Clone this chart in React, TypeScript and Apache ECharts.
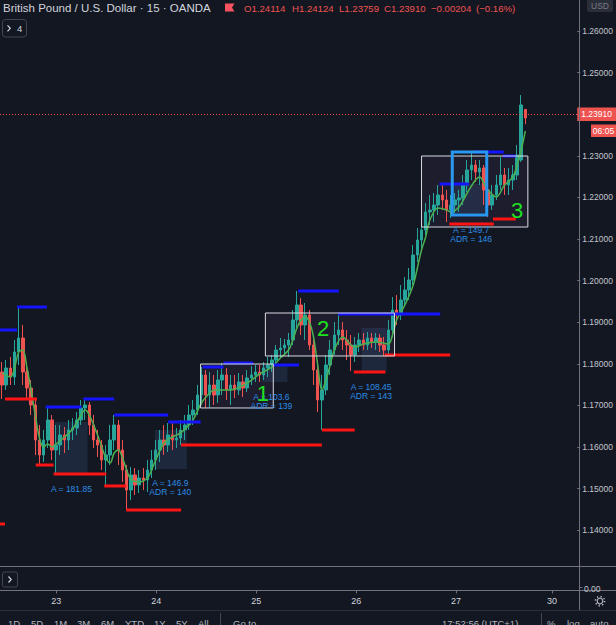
import React, { useEffect, useRef } from 'react';
import * as echarts from 'echarts';

// ---------- data ----------
// hourly slots: [day, first hour, last hour]
const sessions: [string, number, number][] = [
  ['20', 10, 21], ['22', 23, 23], ['23', 0, 23], ['24', 0, 23], ['25', 0, 23],
  ['26', 0, 23], ['27', 0, 21], ['29', 23, 23], ['30', 0, 6],
];

const title = 'British Pound / U.S. Dollar · 15 · OANDA';
const lastBar = { o: 1.24114, h: 1.24124, l: 1.23759, c: 1.2391 };
const change = -0.00204;
const changePct = -0.16;

// [open, close, low, high]
const candles: number[][] = [
  [1.17803, 1.1749, 1.17154, 1.18043], [1.1749, 1.17899, 1.1737, 1.18091], [1.17899, 1.17683, 1.1749, 1.18163],
  [1.17683, 1.18284, 1.1749, 1.18572], [1.18284, 1.1862, 1.17971, 1.19365], [1.1862, 1.17803, 1.1749, 1.18933],
  [1.17803, 1.17418, 1.1713, 1.18043], [1.17418, 1.1701, 1.16769, 1.17611], [1.1701, 1.16168, 1.15808, 1.17178],
  [1.16168, 1.15808, 1.15567, 1.16529], [1.15808, 1.16168, 1.15639, 1.16409], [1.16168, 1.16649, 1.15976, 1.16938],
  [1.16649, 1.15928, 1.15688, 1.16769], [1.15928, 1.16048, 1.15351, 1.16529], [1.16048, 1.16289, 1.15808, 1.16529],
  [1.16289, 1.16168, 1.15856, 1.16481], [1.16168, 1.16409, 1.15928, 1.16649], [1.16409, 1.16457, 1.16168, 1.16697],
  [1.16457, 1.16649, 1.16289, 1.16841], [1.16649, 1.16938, 1.16529, 1.1713], [1.16938, 1.1701, 1.16649, 1.17154],
  [1.1701, 1.16529, 1.16289, 1.17082], [1.16529, 1.16168, 1.15976, 1.16769], [1.16168, 1.16048, 1.1576, 1.16409],
  [1.16048, 1.15688, 1.15447, 1.16168], [1.15688, 1.15808, 1.15063, 1.16048], [1.15808, 1.16168, 1.15567, 1.16529],
  [1.16168, 1.16529, 1.15928, 1.16769], [1.16529, 1.15928, 1.15567, 1.16649], [1.15928, 1.15447, 1.15159, 1.16168],
  [1.15447, 1.14966, 1.14486, 1.15567], [1.14966, 1.15327, 1.14726, 1.15519], [1.15327, 1.15087, 1.14846, 1.15495],
  [1.15087, 1.15255, 1.14894, 1.15447], [1.15255, 1.15207, 1.14966, 1.15495], [1.15207, 1.15447, 1.14918, 1.15688],
  [1.15447, 1.15688, 1.15255, 1.15928], [1.15688, 1.15928, 1.15447, 1.16168], [1.15928, 1.16168, 1.15639, 1.16409],
  [1.16168, 1.16048, 1.15808, 1.16529], [1.16048, 1.16289, 1.1588, 1.16577], [1.16289, 1.16168, 1.15928, 1.16577],
  [1.16168, 1.16216, 1.15976, 1.16457], [1.16216, 1.16409, 1.16048, 1.16649], [1.16409, 1.16529, 1.16168, 1.16769],
  [1.16529, 1.16769, 1.16409, 1.1701], [1.16769, 1.16889, 1.16529, 1.1713], [1.16889, 1.1725, 1.16769, 1.1749],
  [1.1725, 1.17731, 1.1701, 1.17923], [1.17731, 1.1725, 1.16938, 1.17851], [1.1725, 1.1749, 1.16938, 1.17803],
  [1.1749, 1.1725, 1.1701, 1.17731], [1.1725, 1.17611, 1.17058, 1.17851], [1.17611, 1.17731, 1.1725, 1.18019],
  [1.17731, 1.1737, 1.1713, 1.17899], [1.1737, 1.1749, 1.1701, 1.17731], [1.1749, 1.1737, 1.17178, 1.17731],
  [1.1737, 1.17563, 1.1725, 1.17779], [1.17563, 1.17418, 1.17202, 1.17731], [1.17418, 1.17659, 1.17322, 1.17851],
  [1.17659, 1.17731, 1.1749, 1.17947], [1.17731, 1.17803, 1.17563, 1.17971], [1.17803, 1.17731, 1.17563, 1.17971],
  [1.17731, 1.17899, 1.17611, 1.18043], [1.17899, 1.17971, 1.17683, 1.18163], [1.17971, 1.18091, 1.17803, 1.18212],
  [1.18091, 1.18332, 1.17971, 1.18452], [1.18332, 1.1838, 1.18139, 1.1862], [1.1838, 1.18452, 1.18212, 1.18596],
  [1.18452, 1.18572, 1.18163, 1.1874], [1.18572, 1.19053, 1.18452, 1.19293], [1.19053, 1.19413, 1.18813, 1.1975],
  [1.19413, 1.18933, 1.18692, 1.19582], [1.18933, 1.19173, 1.18572, 1.19462], [1.19173, 1.18452, 1.18332, 1.19293],
  [1.18452, 1.17851, 1.1749, 1.18692], [1.17851, 1.1713, 1.16841, 1.18091], [1.1713, 1.1737, 1.16409, 1.17731],
  [1.1737, 1.17971, 1.1725, 1.18212], [1.17971, 1.18332, 1.17731, 1.18572], [1.18332, 1.18692, 1.18212, 1.19005],
  [1.18692, 1.18813, 1.18452, 1.19221], [1.18813, 1.18572, 1.18332, 1.19005], [1.18572, 1.18452, 1.18091, 1.18813],
  [1.18452, 1.18212, 1.17827, 1.18692], [1.18212, 1.18452, 1.18043, 1.18644], [1.18452, 1.18572, 1.18284, 1.1874],
  [1.18572, 1.18452, 1.18332, 1.1874], [1.18452, 1.1862, 1.18332, 1.18764], [1.1862, 1.18524, 1.1838, 1.1874],
  [1.18524, 1.1862, 1.18332, 1.1874], [1.1862, 1.18452, 1.18284, 1.18716], [1.18452, 1.18332, 1.18188, 1.18644],
  [1.18332, 1.18813, 1.18212, 1.19053], [1.18813, 1.19293, 1.18644, 1.19606], [1.19293, 1.19173, 1.18933, 1.19654],
  [1.19173, 1.19534, 1.19053, 1.19894], [1.19534, 1.19774, 1.19413, 1.20087], [1.19774, 1.20014, 1.19534, 1.20303],
  [1.20014, 1.20615, 1.19894, 1.20856], [1.20615, 1.20976, 1.20447, 1.21264], [1.20976, 1.21216, 1.20736, 1.21457],
  [1.21216, 1.21649, 1.21096, 1.21865], [1.21649, 1.21697, 1.21336, 1.22058], [1.21697, 1.21817, 1.21409, 1.22106],
  [1.21817, 1.22058, 1.21577, 1.22298], [1.22058, 1.21938, 1.21697, 1.22346], [1.21938, 1.21697, 1.21409, 1.22178],
  [1.21697, 1.21817, 1.21505, 1.22058], [1.21817, 1.21938, 1.21625, 1.22106], [1.21938, 1.21986, 1.21649, 1.22178],
  [1.21986, 1.22298, 1.21817, 1.22538], [1.22298, 1.22659, 1.2213, 1.22899], [1.22659, 1.22779, 1.22418, 1.23067],
  [1.22779, 1.22611, 1.2237, 1.22899], [1.22611, 1.22707, 1.22298, 1.22899], [1.22707, 1.22178, 1.21817, 1.22779],
  [1.22178, 1.21817, 1.21529, 1.22298], [1.21817, 1.22058, 1.21697, 1.22298], [1.22058, 1.22298, 1.21938, 1.22538],
  [1.22298, 1.22538, 1.22178, 1.22971], [1.22538, 1.22298, 1.22058, 1.22707], [1.22298, 1.22418, 1.22058, 1.22707],
  [1.22418, 1.22538, 1.22178, 1.22779], [1.22538, 1.23019, 1.22418, 1.2326], [1.22899, 1.24221, 1.22851, 1.24462],
  [lastBar.o, lastBar.c, lastBar.l, lastBar.h],
];

// moving average: [slot index, price]
const maPoints: number[][] = [
  [0, 1.17779], [2, 1.17683], [3, 1.17899], [4, 1.18284], [5, 1.18332], [6, 1.17899], [7, 1.1737], [8, 1.16769],
  [9, 1.16216], [10, 1.16], [11, 1.16072], [12, 1.16], [13, 1.16072], [15, 1.1624], [17, 1.16433], [19, 1.16769],
  [20, 1.16889], [21, 1.16769], [23, 1.16289], [24, 1.16], [25, 1.15736], [26, 1.15615], [27, 1.15856], [28, 1.15928],
  [29, 1.15736], [30, 1.15447], [31, 1.15231], [33, 1.15159], [35, 1.15255], [36, 1.15447], [37, 1.15688], [39, 1.16096],
  [41, 1.1624], [43, 1.16337], [45, 1.16529], [46, 1.16649], [48, 1.17058], [50, 1.17298], [51, 1.1737], [55, 1.1737],
  [59, 1.17538], [62, 1.17755], [65, 1.17923], [67, 1.18139], [69, 1.18332], [70, 1.18572], [71, 1.18861], [72, 1.19053],
  [73, 1.19125], [74, 1.19005], [75, 1.18644], [76, 1.17971], [77, 1.1737], [78, 1.17611], [79, 1.17971], [80, 1.18332],
  [82, 1.18644], [84, 1.18452], [85, 1.18404], [87, 1.18476], [90, 1.18524], [93, 1.18476], [94, 1.18692], [95, 1.19053],
  [97, 1.19413], [99, 1.19894], [100, 1.20303], [101, 1.20736], [102, 1.21048], [103, 1.21457], [105, 1.21745],
  [107, 1.21697], [108, 1.21649], [110, 1.21769], [112, 1.22106], [114, 1.22418], [115, 1.2249], [116, 1.22346],
  [117, 1.22178], [119, 1.2201], [121, 1.22298], [123, 1.2249], [124, 1.22779], [125, 1.23139], [126, 1.23596],
];

// resistance (blue) and support (red) levels: [from slot, to slot, price]
const blueLevels: number[][] = [
  [-0.5, 3.6, 1.18813], [3.6, 10.8, 1.19365], [10.5, 19.1, 1.16962], [19.6, 27, 1.17154], [27, 40, 1.16769],
  [40, 47.8, 1.16601], [48.3, 53.3, 1.17923], [53.3, 60.5, 1.18019], [65.3, 71.5, 1.17971], [71.3, 81.1, 1.1975],
  [80.9, 105.5, 1.19197], [105.3, 112.4, 1.22322], [113.6, 120.8, 1.23091], [120.6, 123.7, 1.22995],
];
const redLevels: number[][] = [
  [-0.5, 0.7, 1.14149], [0.7, 8.4, 1.17154], [8.1, 12.4, 1.15567], [12.4, 25.1, 1.15351], [24.6, 29.9, 1.15063],
  [29.9, 43.1, 1.14486], [43.1, 77, 1.16048], [77, 84.9, 1.16409], [84.7, 92.3, 1.17803], [92.1, 107.9, 1.18212],
  [107.7, 118.4, 1.2136], [118.2, 123.7, 1.21481],
];
// ranges: [from slot, to slot, top price, bottom price]
const rangeBoxes: number[][] = [
  [47.8, 65.3, 1.17995, 1.16938], [63.4, 94.5, 1.19221, 1.18188], [101, 126.6, 1.22995, 1.21288],
];
const focusBoxes: number[][] = [[108.4, 116.7, 1.23091, 1.21577]];
const shades: number[][] = [
  [12.7, 20.6, 1.16601, 1.15351], [36.8, 44.5, 1.16409, 1.15471], [62.7, 68.7, 1.17971, 1.17563],
  [86.6, 92.6, 1.18861, 1.17803], [108.9, 116.3, 1.22322, 1.21625],
];
// notes: [slot, price, text]
const notes: any[][] = [
  [16.7, 1.1499, 'A = 181.85'],
  [40.5, 1.15027, 'A = 146.9\nADR = 140'],
  [64.85, 1.17098, 'A = 103.6\nADR = 139'],
  [88.85, 1.17331, 'A = 108.45\nADR = 143'],
  [112.95, 1.21117, 'A = 149.7\nADR = 146'],
];
const zoneNumbers: any[][] = [[62.8, 1.17298, '1'], [77.3, 1.18837, '2'], [124, 1.21673, '3']];

const yMin = 1.13;
const yMax = 1.26745;
const yStep = 0.01;
const hiddenTicks = [1.24];

// ---------- rendering ----------
const FONT = "'Liberation Sans', Arial, sans-serif";
const BG = '#131722';

function buildOption() {
  const categories: string[] = [];
  sessions.forEach(([d, a, b]) => {
    for (let h = a; h <= b; h++) categories.push(`${d} ${String(h).padStart(2, '0')}:00`);
  });
  const N = categories.length;
  const isDay = (_i: number, v: string) => v.endsWith(' 00:00');

  const rectSeries = (rows: number[][], style: any, z: number) => ({
    type: 'custom', xAxisIndex: 1, yAxisIndex: 0, z, silent: true,
    data: rows.map((r) => [r[0], r[2], r[1], r[3]]),
    encode: { x: [0, 2], y: [1, 3] },
    renderItem: (_p: any, api: any) => {
      const a = api.coord([api.value(0), api.value(1)]);
      const b = api.coord([api.value(2), api.value(3)]);
      return {
        type: 'rect',
        shape: { x: Math.min(a[0], b[0]), y: Math.min(a[1], b[1]), width: Math.abs(b[0] - a[0]), height: Math.abs(b[1] - a[1]) },
        style,
      };
    },
  });
  const levelSeries = (rows: number[][], color: string) => ({
    type: 'custom', xAxisIndex: 1, yAxisIndex: 0, z: 5, silent: true,
    data: rows.map((r) => [r[0], r[2], r[1]]),
    encode: { x: [0, 2], y: 1 },
    renderItem: (_p: any, api: any) => {
      const a = api.coord([api.value(0), api.value(1)]);
      const b = api.coord([api.value(2), api.value(1)]);
      return { type: 'line', shape: { x1: a[0], y1: a[1], x2: b[0], y2: b[1] }, style: { stroke: color, lineWidth: 3 } };
    },
  });
  const textSeries = (rows: any[][], color: string, size: number, lineHeight: number) => ({
    type: 'custom', xAxisIndex: 1, yAxisIndex: 0, z: 7, silent: true,
    data: rows.map((r) => [r[0], r[1]]),
    renderItem: (p: any, api: any) => {
      const pt = api.coord([api.value(0), api.value(1)]);
      return {
        type: 'text', x: pt[0], y: pt[1],
        style: {
          text: rows[p.dataIndex][2], fill: color, fontSize: size, lineHeight, fontFamily: FONT,
          align: 'center', verticalAlign: 'middle',
        },
      };
    },
  });

  const t = (x: number, y: number, text: string, fill: string, fontSize: number, align = 'left', va = 'middle', extra: any = {}) => ({
    type: 'text', x, y, z: 60, silent: true,
    style: { text, fill, fontSize, fontFamily: FONT, align, verticalAlign: va, ...extra },
  });
  const ln = (x1: number, y1: number, x2: number, y2: number, stroke: string, lineWidth = 1) => ({
    type: 'line', z: 55, silent: true, shape: { x1, y1, x2, y2 }, style: { stroke, lineWidth },
  });

  const fmtSigned = (v: number, d: number) => (v < 0 ? '\u2212' : '+') + Math.abs(v).toFixed(d);
  const ohlcText = [
    'O' + lastBar.o.toFixed(5), 'H' + lastBar.h.toFixed(5), 'L' + lastBar.l.toFixed(5), 'C' + lastBar.c.toFixed(5),
    fmtSigned(change, 5), '(' + fmtSigned(changePct, 2) + '%)',
  ];
  const ohlcX = [244, 292, 339, 384, 431, 476];
  const toolbar: [string, number][] = [
    ['1D', 8], ['5D', 31], ['1M', 54], ['3M', 77], ['6M', 101], ['YTD', 125], ['1Y', 154], ['5Y', 176], ['All', 198],
    ['Go to...', 233], ['17:52:56 (UTC+1)', 442], ['%', 547], ['log', 567], ['auto', 590],
  ];

  const graphics: any[] = [
    { type: 'rect', z: 50, silent: true, shape: { x: 0, y: 567, width: 616, height: 23 }, style: { fill: BG } },
    ln(0, 566.5, 616, 566.5, '#70737d'),
    ln(0, 590.5, 616, 590.5, '#70737d'),
    ln(0, 610.5, 616, 610.5, '#2a2e39'),
    ln(579.5, 0, 579.5, 610, '#70737d'),
    ln(579, 587.5, 582.5, 587.5, '#70737d'),
    t(584, 589, '0.00', '#c3c6ce', 8.5),
    { type: 'rect', z: 58, silent: true, shape: { x: 580, y: 591, width: 36, height: 19 }, style: { fill: BG } },
    { type: 'circle', z: 60, silent: true, shape: { cx: 600, cy: 601, r: 2.8 }, style: { fill: 'none', stroke: '#b2b5be', lineWidth: 1.2 } },
    { type: 'circle', z: 60, silent: true, shape: { cx: 600, cy: 601, r: 4.6 }, style: { fill: 'none', stroke: '#b2b5be', lineWidth: 1.6, lineDash: [1.3, 2.3] } },
    // bottom-left button
    { type: 'rect', z: 60, silent: true, shape: { x: 2.5, y: 572, width: 15, height: 15, r: 2 }, style: { fill: 'none', stroke: '#434651', lineWidth: 1 } },
    { type: 'polyline', z: 60, silent: true, shape: { points: [[8.5, 576.5], [11.2, 579.5], [8.5, 582.5]] }, style: { fill: 'none', stroke: '#d1d4dc', lineWidth: 1.2 } },
    // header
    t(3, 8, title, '#d1d4dc', 11.5),
    { type: 'polygon', z: 60, silent: true, shape: { points: [[225, 3.5], [234.5, 3.5], [232, 7.5], [234.5, 11.5], [225, 11.5]] }, style: { fill: '#f7525f' } },
    ...ohlcText.map((s, k) => t(ohlcX[k], 8, s, '#ef5350', 9.6)),
    { type: 'rect', z: 60, silent: true, shape: { x: 2.5, y: 19.5, width: 24, height: 17.5, r: 3 }, style: { fill: 'none', stroke: '#434651', lineWidth: 1 } },
    { type: 'polyline', z: 60, silent: true, shape: { points: [[7.5, 25.3], [10.3, 28.3], [7.5, 31.3]] }, style: { fill: 'none', stroke: '#d1d4dc', lineWidth: 1.2 } },
    t(17, 28.5, '4', '#d1d4dc', 9.5),
    { type: 'rect', z: 60, silent: true, shape: { x: 587, y: -3, width: 26, height: 15, r: 2 }, style: { fill: '#2a2e39' } },
    t(600, 5.5, 'USD', '#787b86', 8.5, 'center'),
    // countdown badge
    { type: 'rect', z: 60, silent: true, shape: { x: 591, y: 124.5, width: 25, height: 12.5 }, style: { fill: '#ef5350' } },
    t(603.5, 131, '06:05', '#ffffff', 8.5, 'center'),
    // toolbar
    ln(220.5, 613, 220.5, 625, '#434651'),
    ln(541.5, 613, 541.5, 625, '#434651'),
    ...toolbar.map(([s, x]) => t(x, 618.5, s, '#b2b5be', 9.5, 'left', 'top')),
  ];

  return {
    animation: false,
    backgroundColor: BG,
    grid: [
      { left: -2, right: 37, top: 0, height: 571.8 },
      { left: -2, right: 37, top: 566, height: 24.5 },
    ],
    xAxis: [
      { type: 'category', gridIndex: 0, data: categories, boundaryGap: true, show: false },
      { type: 'value', gridIndex: 0, min: -0.5, max: N - 0.5, show: false },
      {
        type: 'category', gridIndex: 1, data: categories, boundaryGap: true,
        axisLine: { show: false, onZero: false },
        axisTick: { show: true, alignWithLabel: true, interval: isDay, length: 3, lineStyle: { color: '#70737d' } },
        axisLabel: { interval: isDay, formatter: (v: string) => v.split(' ')[0], color: '#d1d4dc', fontSize: 9, fontFamily: FONT, margin: 6 },
        splitLine: { show: false },
      },
    ],
    yAxis: [
      {
        type: 'value', gridIndex: 0, position: 'right', min: yMin, max: yMax, interval: yStep,
        axisLine: { show: false, onZero: false },
        axisTick: { show: true, length: 3, lineStyle: { color: '#70737d' } },
        axisLabel: {
          color: '#c3c6ce', fontSize: 8.5, fontFamily: FONT, margin: 5, showMaxLabel: false, showMinLabel: false,
          formatter: (v: number) => (hiddenTicks.some((h) => Math.abs(h - v) < 1e-6) ? '' : v.toFixed(5)),
        },
        splitLine: { show: false },
      },
      { type: 'value', gridIndex: 1, show: false, axisLine: { onZero: false } },
    ],
    series: [
      rectSeries(rangeBoxes, { fill: 'rgba(150,100,190,0.08)' }, 1),
      rectSeries(shades, { fill: 'rgba(70,110,170,0.2)' }, 1),
      {
        type: 'candlestick', xAxisIndex: 0, yAxisIndex: 0, z: 3, barWidth: 3,
        data: candles,
        itemStyle: { color: '#26a69a', color0: '#ef5350', borderColor: '#26a69a', borderColor0: '#ef5350', borderWidth: 1 },
        markLine: {
          silent: true, symbol: ['none', 'none'],
          lineStyle: { color: '#ef5350', type: [1, 2], width: 1 },
          label: {
            show: true, position: 'end', distance: 0, formatter: lastBar.c.toFixed(5), color: '#ffffff',
            backgroundColor: '#ef5350', padding: [2.5, 4, 2, 4], fontSize: 8.5, fontFamily: FONT,
          },
          data: [{ yAxis: lastBar.c }],
        },
      },
      {
        type: 'line', xAxisIndex: 1, yAxisIndex: 0, z: 4, data: maPoints, smooth: 0.35, symbol: 'none',
        lineStyle: { color: '#4caf50', width: 1.5 }, silent: true,
      },
      levelSeries(blueLevels, '#1414ff'),
      levelSeries(redLevels, '#ff1414'),
      rectSeries(rangeBoxes, { fill: 'none', stroke: '#d9dbe0', lineWidth: 1 }, 6),
      rectSeries(focusBoxes, { fill: 'none', stroke: '#2a98f0', lineWidth: 3 }, 6),
      textSeries(notes, '#2d8de6', 8.5, 9),
      textSeries(zoneNumbers, '#1fe01f', 22, 22),
    ],
    graphic: { elements: graphics },
  };
}

export default function App() {
  const ref = useRef<HTMLDivElement>(null);
  useEffect(() => {
    const chart = echarts.init(ref.current!, null, { renderer: 'svg' });
    chart.setOption(buildOption() as any);
    return () => chart.dispose();
  }, []);
  return (
    <div
      ref={ref}
      style={{ position: 'fixed', left: 0, top: 0, width: 616, height: 625, background: BG }}
    />
  );
}
